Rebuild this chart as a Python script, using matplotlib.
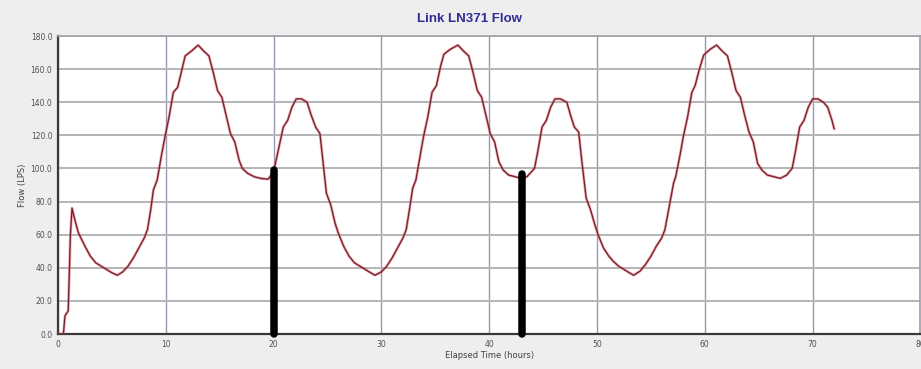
import matplotlib
matplotlib.use("Agg")
import matplotlib.pyplot as plt

# Link flow time series (elapsed hours, flow in LPS)
hours = [
    0.0, 0.5, 0.65, 0.95, 1.15, 1.3, 1.6, 1.9, 2.5, 3.0, 3.5, 4.0, 4.5, 5.0, 5.5,
    6.0, 6.5, 7.0, 7.5, 8.0, 8.3, 8.6, 8.85, 9.2, 9.6, 9.95, 10.3, 10.7, 11.1,
    11.5, 11.8, 12.4, 13.0, 13.5, 14.0, 14.4, 14.8, 15.2, 15.6, 16.0, 16.4,
    16.8, 17.1, 17.6, 18.2, 18.8, 19.5, 20.0, 20.4, 20.9, 21.3, 21.7, 22.1,
    22.6, 23.1, 23.5, 23.9, 24.3, 24.6, 24.9, 25.3, 25.7, 26.0, 26.5, 27.0,
    27.5, 28.0, 28.5, 29.0, 29.4, 30.0, 30.5, 31.0, 31.5, 32.0, 32.3, 32.6,
    32.9, 33.2, 33.6, 33.9, 34.3, 34.7, 35.1, 35.5, 35.8, 36.4, 37.1, 37.6,
    38.1, 38.5, 38.9, 39.3, 39.7, 40.1, 40.5, 40.9, 41.3, 41.8, 42.4, 43.0,
    43.5, 44.2, 44.5, 44.9, 45.3, 45.7, 46.1, 46.6, 47.2, 47.6, 47.9, 48.3,
    48.6, 49.0, 49.4, 49.8, 50.1, 50.6, 51.1, 51.5, 52.0, 52.5, 53.0, 53.4,
    54.0, 54.5, 55.0, 55.5, 56.0, 56.3, 56.7, 57.1, 57.3, 57.7, 58.0, 58.4,
    58.8, 59.1, 59.5, 59.9, 60.5, 61.1, 61.6, 62.1, 62.5, 62.9, 63.3, 63.7,
    64.1, 64.5, 64.9, 65.3, 65.8, 66.4, 67.0, 67.6, 68.1, 68.4, 68.8, 69.2,
    69.6, 70.0, 70.5, 71.0, 71.4, 71.8, 72.0,
]
flow = [
    0.0, 0.0, 11.0, 14.0, 60.0, 76.0, 68.0, 61.0, 53.0, 47.0, 43.0, 41.0, 39.0, 37.0, 35.5,
    37.5, 41.0, 46.0, 52.0, 58.0, 63.0, 75.0, 87.0, 93.0, 108.0, 120.0, 131.0, 146.0, 149.0,
    160.0, 168.0, 171.0, 174.5, 171.0, 168.0, 158.0, 147.0, 143.0, 132.0, 121.0, 116.0,
    105.0, 100.0, 97.0, 95.0, 94.0, 93.5, 98.0, 110.0, 125.0, 129.0, 137.0, 142.0,
    142.0, 140.0, 132.0, 125.0, 121.0, 103.0, 85.0, 78.0, 67.0, 61.0, 53.0, 47.0,
    43.0, 41.0, 39.0, 37.0, 35.5, 37.5, 41.0, 46.0, 52.0, 58.0, 63.0, 75.0,
    88.0, 93.0, 108.0, 119.0, 131.0, 146.0, 150.0, 162.0, 169.0, 172.0, 174.5, 171.0,
    168.0, 158.0, 147.0, 143.0, 132.0, 121.0, 116.0, 104.0, 99.0, 96.0, 95.0, 94.0,
    95.0, 100.0, 110.0, 125.0, 129.0, 137.0, 142.0, 142.0, 140.0, 131.0, 125.0, 122.0,
    104.0, 82.0, 75.0, 66.0, 60.0, 52.0, 47.0, 44.0, 41.0, 39.0, 37.0, 35.5,
    38.0, 42.0, 47.0, 53.0, 58.0, 63.0, 77.0, 91.0, 95.0, 108.0, 119.0, 131.0,
    146.0, 150.0, 160.0, 168.5, 172.0, 174.5, 171.0, 168.0, 158.0, 147.0, 143.0, 132.0,
    122.0, 116.0, 103.0, 99.0, 96.0, 95.0, 94.0, 96.0, 100.0, 110.0, 125.0, 129.0,
    137.0, 142.0, 142.0, 140.0, 137.0, 129.0, 124.0,
]

# Marker bars at selected times
marker_hours = [20.0, 43.0]
marker_flow = [99.0, 96.5]

x_ticks = [0, 10, 20, 30, 40, 50, 60, 70, 80]
y_ticks = [0, 20, 40, 60, 80, 100, 120, 140, 160, 180]

W, H = 921, 369
fig = plt.figure(figsize=(W / 100, H / 100), dpi=100, facecolor="#eeeeee")
ax = fig.add_axes([58 / W, (H - 334) / H, 862.4 / W, 298 / H])
ax.set_facecolor("white")

ax.set_xlim(0, 80)
ax.set_ylim(0, 180)
ax.set_xticks(x_ticks)
ax.set_yticks(y_ticks)
ax.set_xticklabels([str(v) for v in x_ticks])
ax.set_yticklabels([f"{v:.1f}" for v in y_ticks])

ax.grid(axis="y", color="#b4b4b8", linewidth=1.4, zorder=0)
ax.grid(axis="x", color="#9a9aae", linewidth=1.0, zorder=0)

for side in ("left", "bottom"):
    ax.spines[side].set_color("#3a3a3a")
    ax.spines[side].set_linewidth(1.6)
for side in ("top", "right"):
    ax.spines[side].set_color("#a0a0a8")
    ax.spines[side].set_linewidth(1.2)

ax.tick_params(axis="both", length=0, labelsize=5.5, labelcolor="#505050", pad=4)

# flow curve: soft red halo under a dark red core
ax.plot(hours, flow, color="#e4606c", linewidth=2.0, alpha=0.55, zorder=3,
        solid_joinstyle="round")
ax.plot(hours, flow, color="#742430", linewidth=0.95, zorder=4,
        solid_joinstyle="round")

for mh, mf in zip(marker_hours, marker_flow):
    ax.plot([mh, mh], [0, mf], color="black", linewidth=5.4,
            solid_capstyle="round", zorder=5, clip_on=False)

ax.set_xlabel("Elapsed Time (hours)", fontsize=6, color="#404040", labelpad=2)
ax.set_ylabel("Flow (LPS)", fontsize=6, color="#404040", labelpad=3)

fig.text(0.51, 1 - 19 / H, "Link LN371 Flow", ha="center", va="center",
         fontsize=9.5, fontweight="bold", color="#2e2e96",
         family=["Liberation Sans", "DejaVu Sans"])

fig.savefig("out.png", dpi=100, facecolor=fig.get_facecolor())
